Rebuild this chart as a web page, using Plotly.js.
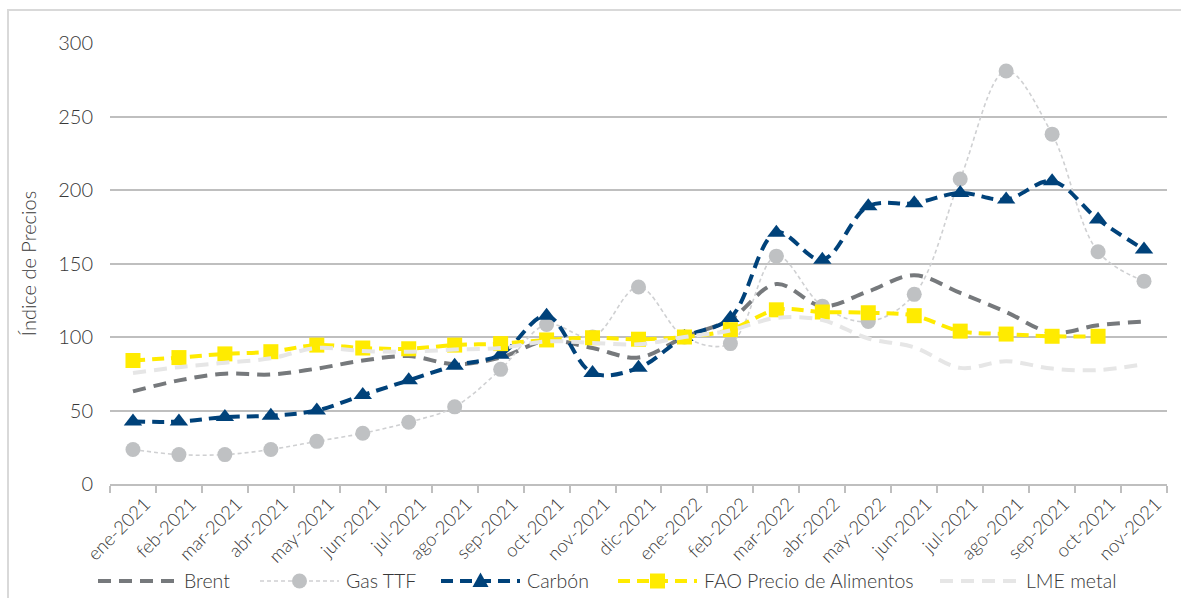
<!DOCTYPE html>
<html>
<head>
<meta charset="utf-8">
<script src="https://cdn.plot.ly/plotly-3.0.1.min.js"></script>
<style>
  html, body { margin: 0; padding: 0; background: #fff; }
  #wrap { position: relative; width: 1181px; height: 598px; overflow: hidden; }
  #chart { position: absolute; left: 0; top: 0; width: 1181px; height: 598px; }
  #frame { position: absolute; left: 7px; top: 9px; width: 1300px; height: 800px;
           border: 2px solid #d9d9d9; pointer-events: none; }
</style>
</head>
<body>
<div id="wrap">
  <div id="chart"></div>
  <div id="frame"></div>
</div>
<script>
// ---- data ----
const months = ['ene-2021','feb-2021','mar-2021','abr-2021','may-2021','jun-2021','jul-2021','ago-2021',
                'sep-2021','oct-2021','nov-2021','dic-2021','ene-2022','feb-2022','mar-2022','abr-2022',
                'may-2022','jun-2021','jul-2021','ago-2021','sep-2021','oct-2021','nov-2021'];

const brent  = [63, 70.5, 75, 74.5, 78.5, 84, 87, 81.5, 86, 97.5, 92.5, 86, 100, 112, 136, 121, 131, 142, 130, 117, 103, 108, 110.5];
const gasTTF = [23.5, 20, 20, 23.5, 29, 34.5, 42, 52.5, 78, 108.5, 100, 134, 100, 95.5, 155, 121, 110.5, 129, 207.5, 281, 238, 158, 138];
const carbon = [42.5, 42.5, 45.5, 46.5, 50, 60.5, 70.5, 80.5, 88, 114.5, 75.5, 79, 100, 113, 171, 152.5, 189, 191, 198, 193.5, 206, 180, 159.5];
const fao    = [84, 86, 88.5, 90, 94.5, 92.5, 92, 94.5, 95.5, 98, 99.5, 98.5, 100, 105, 118.5, 117, 116.5, 114.5, 104, 102, 100.5, 100.5, null];
const lme    = [75.5, 79.5, 82.5, 85.5, 92.5, 90.5, 90, 91.5, 92.5, 97, 96, 95, 100, 104.5, 113, 111.5, 99, 93, 79, 83.5, 78.5, 77.5, 81.5];

const seriesNames = ['Brent', 'Gas TTF', 'Carbón', 'FAO Precio de Alimentos', 'LME metal'];
const yTicks = [0, 50, 100, 150, 200, 250, 300];

// ---- styling ----
const FONT = 'Lato, "Noto Sans", sans-serif';
const WEIGHT = 300;
const TXT = '#383838';
const W = 1181, H = 598;
const M = { l: 110, r: 14, t: 43, b: 114 };
const PW = W - M.l - M.r, PH = H - M.t - M.b;

const styles = [
  { line: { color: '#76797c', width: 4, dash: '13px,8px' }, marker: null },
  { line: { color: '#cfd0d2', width: 1.6, dash: '4px,3px' }, marker: { symbol: 'circle', size: 15, color: '#bfc1c3' } },
  { line: { color: '#00427a', width: 4, dash: '12px,7px' }, marker: { symbol: 'triangle-up', size: 16, color: '#00427a' } },
  { line: { color: '#ffeb00', width: 4, dash: '12px,7px' }, marker: { symbol: 'square', size: 15, color: '#ffeb00' } },
  { line: { color: '#e6e6e6', width: 4, dash: '13px,8px' }, marker: null }
];
const values = [brent, gasTTF, carbon, fao, lme];
const xs = months.map((_, i) => i);

const traces = values.map((v, k) => {
  const s = styles[k];
  const t = { name: seriesNames[k], x: xs, y: v, type: 'scatter',
              mode: s.marker ? 'lines+markers' : 'lines',
              line: Object.assign({ shape: 'spline', smoothing: 1 }, s.line),
              showlegend: false };
  if (s.marker) t.marker = s.marker;
  return t;
});

// ---- custom legend (long samples like the original) ----
const px = x => (x - M.l) / PW;
const py = y => (H - M.b - y) / PH;
const legSampleX = [98, 260, 441, 618, 940];
const legY = 581;
const shapes = [], annotations = [];
styles.forEach((s, k) => {
  const x0 = legSampleX[k], x1 = x0 + 79, cx = (x0 + x1) / 2;
  shapes.push({ type: 'line', xref: 'paper', yref: 'paper', x0: px(x0), x1: px(x1), y0: py(legY), y1: py(legY),
                line: { color: s.line.color, width: s.line.width, dash: s.line.dash } });
  if (s.marker) {
    const r = s.marker.size / 2, c = s.marker.color;
    if (s.marker.symbol === 'circle') {
      shapes.push({ type: 'circle', xref: 'paper', yref: 'paper', x0: px(cx - r), x1: px(cx + r), y0: py(legY - r), y1: py(legY + r),
                    fillcolor: c, line: { width: 0 } });
    } else if (s.marker.symbol === 'square') {
      shapes.push({ type: 'rect', xref: 'paper', yref: 'paper', x0: px(cx - r), x1: px(cx + r), y0: py(legY - r), y1: py(legY + r),
                    fillcolor: c, line: { width: 0 } });
    } else {
      shapes.push({ type: 'path', xref: 'paper', yref: 'paper',
                    path: `M ${px(cx - r)} ${py(legY + r * 0.75)} L ${px(cx + r)} ${py(legY + r * 0.75)} L ${px(cx)} ${py(legY - r * 1.05)} Z`,
                    fillcolor: c, line: { width: 0 } });
    }
  }
  annotations.push({ xref: 'paper', yref: 'paper', x: px(x1 + 5), y: py(legY - 1), xanchor: 'left', yanchor: 'middle',
                     showarrow: false, text: seriesNames[k], font: { family: FONT, size: 19.5, color: TXT, weight: WEIGHT } });
});

const layout = {
  width: W, height: H,
  margin: Object.assign({ autoexpand: false, pad: 0 }, M),
  paper_bgcolor: 'rgba(0,0,0,0)', plot_bgcolor: 'rgba(0,0,0,0)',
  font: { family: FONT, color: TXT, size: 18, weight: WEIGHT },
  showlegend: false,
  shapes, annotations,
  xaxis: {
    range: [-0.5, months.length - 0.5], automargin: false,
    tickmode: 'array', tickvals: xs, ticktext: months, tickangle: -45,
    ticks: '', showgrid: false, zeroline: false,
    showline: true, linecolor: '#bfbfbf', linewidth: 2,
    tickfont: { family: FONT, size: 18.5, color: TXT, weight: WEIGHT },
    ticklabelshift: 12,
    minor: { tickmode: 'linear', tick0: -0.5, dtick: 1, ticks: 'outside', ticklen: 7,
             tickwidth: 2, tickcolor: '#bfbfbf', showgrid: false },
    fixedrange: true
  },
  yaxis: {
    range: [0, 300], automargin: false, tickmode: 'array', tickvals: yTicks, ticks: '',
    showgrid: true, gridcolor: '#bfbfbf', gridwidth: 2, zeroline: false, showline: false,
    tickfont: { family: FONT, size: 20, color: TXT, weight: WEIGHT }, ticklabelstandoff: 16,
    title: { text: 'Índice de Precios', font: { family: FONT, size: 20, color: TXT, weight: WEIGHT }, standoff: 16 },
    fixedrange: true
  }
};

Plotly.newPlot('chart', traces, layout, { displayModeBar: false, staticPlot: true });
</script>
</body>
</html>
